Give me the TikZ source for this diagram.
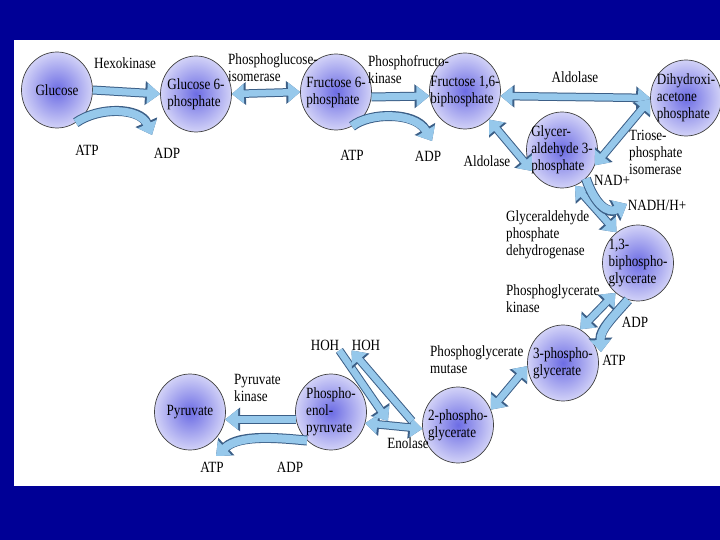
\documentclass[tikz,border=0pt]{standalone}
\usepackage{fontspec}
\setmainfont{Liberation Serif}[FakeStretch=0.84]
\usetikzlibrary{shapes.geometric,arrows.meta}

\definecolor{fondo}{RGB}{0,0,150}
\definecolor{flecha}{RGB}{150,200,235}
\definecolor{borde}{RGB}{60,95,135}
\definecolor{centro}{RGB}{108,108,228}
\definecolor{orilla}{RGB}{210,210,247}

\newcommand{\letra}{\fontsize{15.6bp}{17bp}\selectfont}

\tikzset{
  pool/.style={ellipse, draw=black!75, line width=0.7bp,
    inner color=centro, outer color=orilla,
    minimum width=71bp, minimum height=76bp, inner sep=0pt},
  poolname/.style={font=\letra, align=left, inner sep=0pt},
  lab/.style={font=\letra, align=left, inner sep=0pt},
  flow/.style={line width=7bp, draw=flecha,
    -{Triangle[length=13bp,width=20bp]},
    preaction={draw=borde, line width=9bp,
      -{Triangle[length=15bp,width=23bp]}}},
  flowboth/.style={line width=6.5bp, draw=flecha,
    {Triangle[length=12bp,width=19bp]}-{Triangle[length=12bp,width=19bp]},
    preaction={draw=borde, line width=8.5bp,
      {Triangle[length=14bp,width=22bp]}-{Triangle[length=14bp,width=22bp]}}},
  water/.style={line width=6.5bp, draw=flecha,
    -{Triangle[length=12bp,width=19bp]},
    preaction={draw=borde, line width=8.5bp,
      -{Triangle[length=14bp,width=22bp]}}},
  bendflow/.style={line width=8bp, draw=flecha,
    -{Triangle[length=12bp,width=20bp]},
    preaction={draw=borde, line width=10bp,
      -{Triangle[length=14bp,width=23bp]}}}
}

\begin{document}
\begin{tikzpicture}[x=1bp, y=-1bp]

  % Fondo
  \useasboundingbox (0,0) rectangle (720,540);
  \fill[fondo] (0,0) rectangle (720,540);
  \fill[white] (14,40) rectangle (720,486);

  % Metabolitos
  \node[pool] (glc) at (57,90) {};
  \node[poolname] (glc-t) at (glc) {Glucose};

  \node[pool] (g6p) at (196,94) {};
  \node[poolname] (g6p-t) at (g6p) {Glucose 6-\\phosphate};

  \node[pool] (f6p) at (336,92) {};
  \node[poolname] (f6p-t) at (f6p) {Fructose 6-\\phosphate};

  \node[pool] (f16bp) at (465,91) {};
  \node[poolname] (f16bp-t) at (f16bp) {Fructose 1,6-\\biphosphate};

  \node[pool] (dhap) at (686,98) {};
  \node[poolname] (dhap-t) at (dhap) {Dihydroxi-\\acetone\\phosphate};

  \node[pool] (gap) at (562,150) {};
  \node[poolname] (gap-t) at (gap) {Glycer-\\aldehyde 3-\\phosphate};

  \node[pool] (bpg) at (638,263) {};
  \node[poolname] (bpg-t) at (bpg) {1,3-\\biphospho-\\glycerate};

  \node[pool] (pgc) at (563,363) {};
  \node[poolname] (pgc-t) at (pgc) {3-phospho-\\glycerate};

  \node[pool] (pgb) at (458,425) {};
  \node[poolname] (pgb-t) at (pgb) {2-phospho-\\glycerate};

  \node[pool] (pep) at (331,412) {};
  \node[poolname] (pep-t) at (pep) {Phospho-\\enol-\\pyruvate};

  \node[pool] (pyr) at (190,412) {};
  \node[poolname] (pyr-t) at (pyr) {Pyruvate};

  % Enzimas y cofactores
  \node[lab] (hexo) at (125,63) {Hexokinase};
  \node[lab, anchor=north west] (pgi) at (228,53)
    {Phosphoglucose-\\isomerase};
  \node[lab, anchor=north west] (pfk) at (368,55)
    {Phosphofructo-\\kinase};
  \node[lab] (atp1) at (87,150) {ATP};
  \node[lab] (adp1) at (167,153) {ADP};
  \node[lab] (atp2) at (352,155) {ATP};
  \node[lab] (adp2) at (428,156) {ADP};
  \node[lab] (aldo1) at (575,77) {Aldolase};
  \node[lab] (aldo2) at (487,161) {Aldolase};
  \node[lab, anchor=north west] (tpi) at (629,130)
    {Triose-\\phosphate\\isomerase};
  \node[lab] (nad) at (612,180) {NAD+};
  \node[lab] (nadh) at (657,205) {NADH/H+};
  \node[lab, anchor=north west] (gapdh) at (506,210)
    {Glyceraldehyde\\phosphate\\dehydrogenase};
  \node[lab, anchor=north west] (pgk) at (506,284)
    {Phosphoglycerate\\kinase};
  \node[lab] (adp3) at (635,322) {ADP};
  \node[lab] (atp3) at (614,360) {ATP};
  \node[lab, anchor=north west] (pgm) at (430,345)
    {Phosphoglycerate\\mutase};
  \node[lab] (hoh1) at (325,345) {HOH};
  \node[lab] (hoh2) at (366,345) {HOH};
  \node[lab] (eno) at (408,443) {Enolase};
  \node[lab, anchor=north west] (pk) at (234,374)
    {Pyruvate\\kinase};
  \node[lab] (atp4) at (212,467) {ATP};
  \node[lab] (adp4) at (290,467) {ADP};

  % Puntos libres de las flechas curvas
  \coordinate (adpin1) at (152,135);
  \coordinate (adpin2) at (432,141);
  \coordinate (nadhout) at (627,204);
  \coordinate (atpout3) at (601,352);
  \coordinate (atpout4) at (216,456);
  \coordinate (watin) at (388,421);
  \coordinate (watout) at (412,421);

  % Reacciones
  \draw[flow] (glc.east) -- (g6p.west);
  \draw[flowboth] (g6p.east) -- (f6p.west);
  \draw[flow] (f6p.-8) -- (f16bp.-172);
  \draw[flowboth] (f16bp.-8) -- (dhap.west);
  \draw[flowboth] (f16bp.-50) -- (gap.215);
  \draw[flowboth] (dhap.182) -- (gap.-25);
  \draw[flowboth] (gap.-70) -- (bpg.125);
  \draw[flowboth] (bpg.233) -- (pgc.63);
  \draw[flowboth] (pgc.185) -- (pgb.25);
  \draw[flowboth] (pep.-18) -- (pgb.186);
  \draw[flow] (pep.-168) -- (pyr.-12);

  % Agua
  \draw[water] (hoh1.south east) -- (watin);
  \draw[water] (watout) -- (hoh2.south west);

  % Cofactores (flechas curvas)
  \draw[bendflow]
    (glc.-60) .. controls (100,106) and (140,108) .. (adpin1);
  \draw[bendflow]
    (f6p.-65) .. controls (370,112) and (415,112) .. (adpin2);
  \draw[bendflow]
    (gap.-50) .. controls (595,205) and (608,214) .. (nadhout);
  \draw[bendflow]
    (bpg.-105) .. controls (612,318) and (600,330) .. (atpout3);
  \draw[bendflow]
    (pep.-130) .. controls (280,438) and (240,434) .. (atpout4);

\end{tikzpicture}
\end{document}
